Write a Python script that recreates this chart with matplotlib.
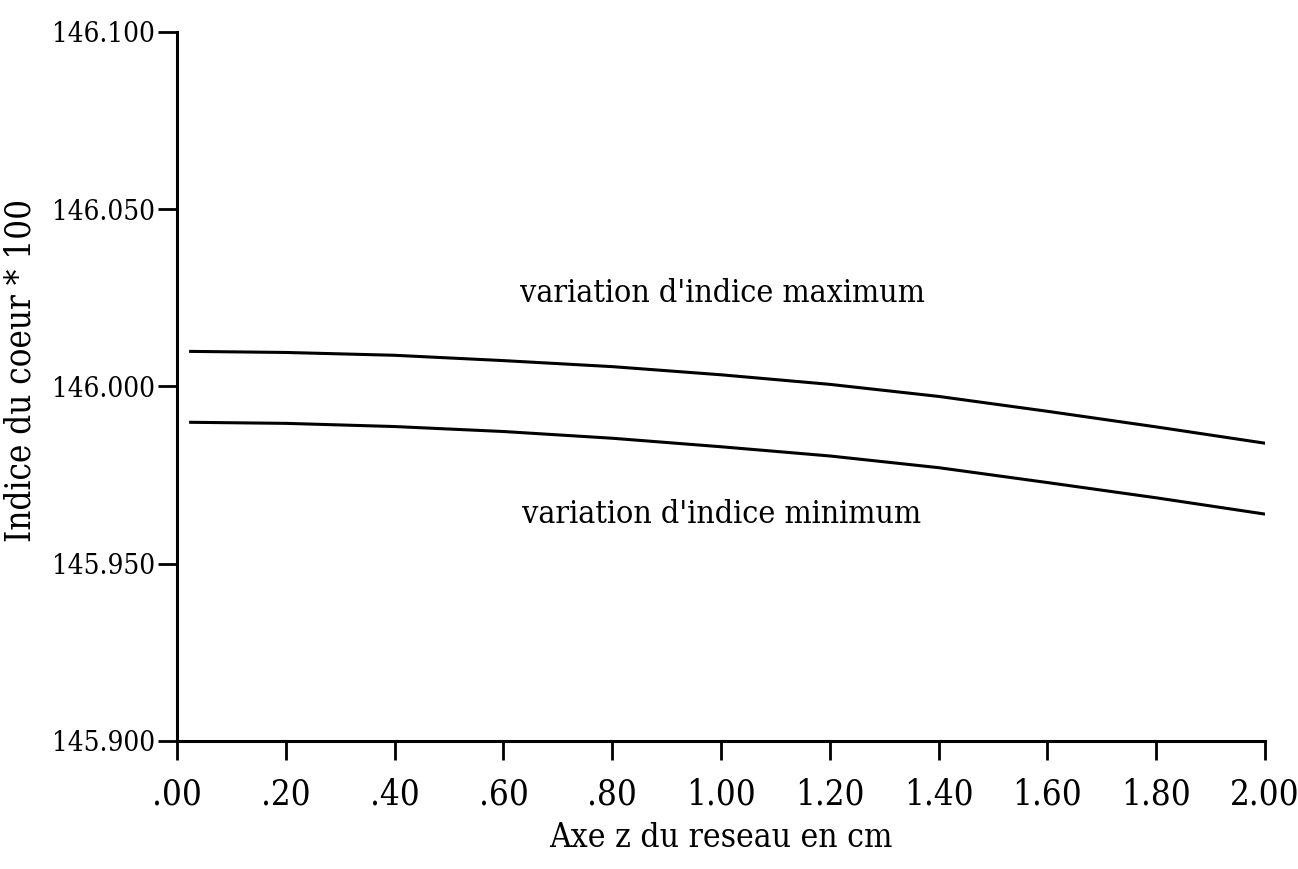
import matplotlib
matplotlib.use('Agg')
import matplotlib.pyplot as plt
from matplotlib.ticker import FixedLocator, FuncFormatter

# valeurs
z = [0.025, 0.2, 0.4, 0.6, 0.8, 1.0, 1.2, 1.4, 1.6, 1.8, 2.0]
n_max = [146.0099, 146.0096, 146.0088, 146.0073, 146.0056, 146.0033,
         146.0006, 145.9972, 145.9930, 145.9886, 145.9840]
n_min = [145.9899, 145.9896, 145.9887, 145.9873, 145.9854, 145.9830,
         145.9804, 145.9771, 145.9729, 145.9686, 145.9640]

x_ticks = [0.0, 0.2, 0.4, 0.6, 0.8, 1.0, 1.2, 1.4, 1.6, 1.8, 2.0]
y_ticks = [145.900, 145.950, 146.000, 146.050, 146.100]

plt.rcParams['font.family'] = ['DejaVu Serif', 'Liberation Serif']
fnt = dict(fontstretch='condensed')

fig = plt.figure(figsize=(12.98, 8.69), dpi=100)
ax = fig.add_axes([0.1364, 0.1473, 0.9746 - 0.1364, 0.9632 - 0.1473])

ax.plot(z, n_max, color='black', lw=2.2)
ax.plot(z, n_min, color='black', lw=2.2)

ax.set_xlim(0, 2.0)
ax.set_ylim(145.900, 146.100)

for s in ['top', 'right']:
    ax.spines[s].set_visible(False)
for s in ['left', 'bottom']:
    ax.spines[s].set_linewidth(2.2)

ax.xaxis.set_major_locator(FixedLocator(x_ticks))
ax.yaxis.set_major_locator(FixedLocator(y_ticks))
ax.xaxis.set_major_formatter(FuncFormatter(lambda v, p: ('%.2f' % v).lstrip('0') if v < 1 else '%.2f' % v))
ax.yaxis.set_major_formatter(FuncFormatter(lambda v, p: '%.3f' % v))
ax.tick_params(axis='both', direction='out', width=2, colors='black')
ax.tick_params(axis='x', length=14, pad=12)
ax.tick_params(axis='y', length=14, pad=2)
for lab in ax.get_xticklabels():
    lab.set_fontsize(25)
    lab.set_fontstretch('condensed')
for lab in ax.get_yticklabels():
    lab.set_fontsize(20)
    lab.set_fontstretch('condensed')

ax.set_xlabel('Axe z du reseau en cm', fontsize=24, labelpad=8, **fnt)
ax.set_ylabel('Indice du coeur * 100', fontsize=25, **fnt)
ax.yaxis.set_label_coords(-0.128, 0.523)

ax.text(0.63, 146.0262, "variation d'indice maximum", fontsize=23, va='center', ha='left', **fnt)
ax.text(0.635, 145.9639, "variation d'indice minimum", fontsize=23, va='center', ha='left', **fnt)

fig.savefig('out.png', dpi=100)
